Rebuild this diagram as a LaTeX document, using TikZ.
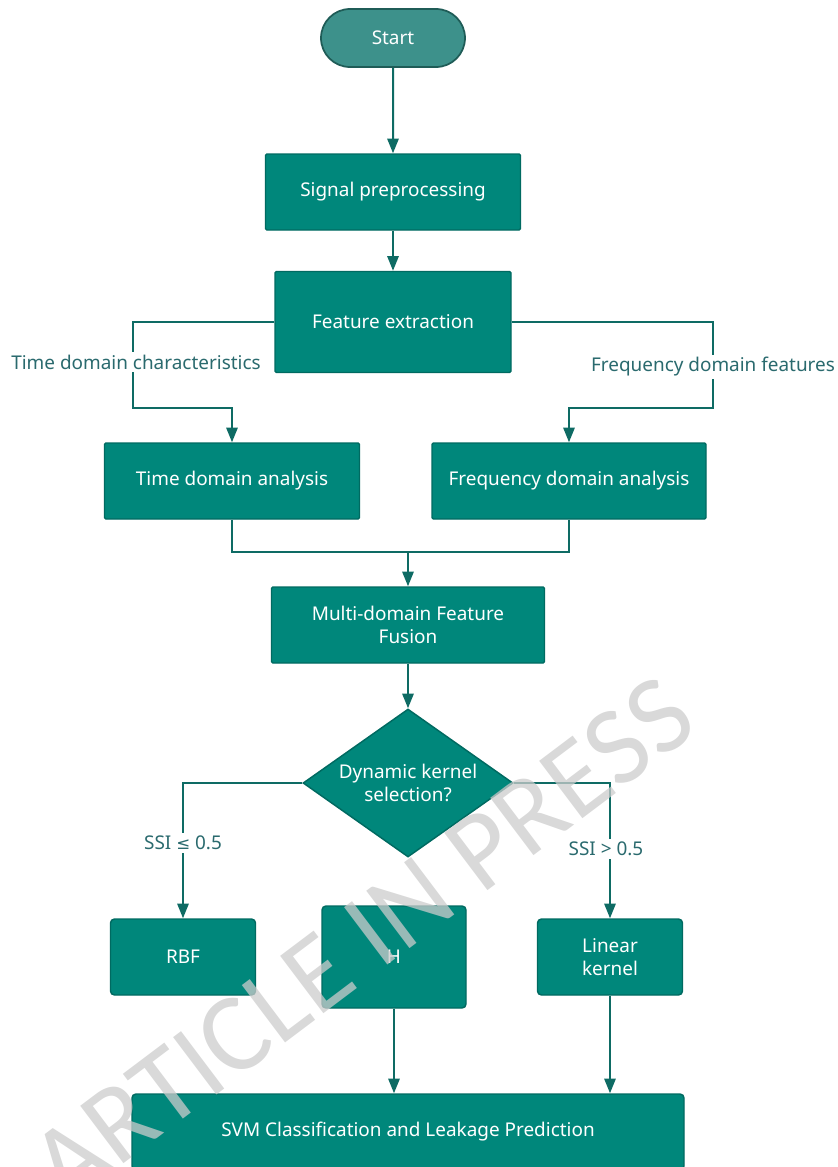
\documentclass[tikz,border=0pt]{standalone}
\usepackage{fontspec}
\setmainfont{Noto Sans}
\newfontfamily\wmfont{Carlito}
\newfontfamily\symfont{DejaVu Sans}
\usetikzlibrary{arrows.meta,shapes.geometric,shapes.misc}
\definecolor{boxfill}{HTML}{00877B}
\definecolor{boxline}{HTML}{006A61}
\definecolor{startfill}{HTML}{3D918B}
\definecolor{startline}{HTML}{1F5C57}
\definecolor{conn}{HTML}{0E6B64}
\definecolor{lbl}{HTML}{2A6A6E}
\definecolor{wm}{HTML}{CCCCCC}
\begin{document}
\begin{tikzpicture}[x=0.75pt,y=-0.75pt,
  box/.style={draw=boxline, line width=1.1pt, fill=boxfill, text=white,
    font=\fontsize{14.2}{17.5}\selectfont, align=center, inner sep=0pt, rounded corners=1pt},
  kbox/.style={box, rounded corners=3pt},
  startbox/.style={rounded rectangle, draw=startline, line width=1.3pt, fill=startfill, text=white,
    font=\fontsize{14.2}{17.5}\selectfont, inner sep=0pt, minimum width=108pt, minimum height=43.5pt},
  decision/.style={diamond, aspect=1.42, draw=boxline, line width=1.1pt, fill=boxfill, text=white,
    font=\fontsize{14.2}{17.5}\selectfont, align=center, inner sep=0pt,
    minimum width=157.5pt, minimum height=111pt},
  line/.style={draw=conn, line width=1.5pt},
  arr/.style={line, -{Triangle[length=11pt,width=8.5pt]}},
  lab/.style={fill=white, text=lbl, font=\fontsize{14.2}{17.5}\selectfont, inner sep=2pt}
]
\useasboundingbox (0,0) rectangle (838,1167);

% nodes
\node[startbox] (start) at (393,38) {Start};
\node[box, minimum width=191.25pt, minimum height=57pt] (sig) at (393,192) {Signal preprocessing};
\node[box, minimum width=177pt, minimum height=75.75pt] (fe) at (393,322) {Feature extraction};
\node[box, minimum width=191.25pt, minimum height=57pt] (td) at (232,481) {Time domain analysis};
\node[box, minimum width=205.5pt, minimum height=57pt] (fd) at (569,481) {Frequency domain analysis};
\node[box, minimum width=204.75pt, minimum height=57pt] (mf) at (408,625) {Multi-domain Feature\\Fusion};
\node[decision] (dk) at (408,783) {Dynamic kernel\\selection?};
\node[kbox, minimum width=108.75pt, minimum height=57pt] (rbf) at (183,957) {RBF};
\node[kbox, minimum width=108pt, minimum height=76.5pt] (h) at (394,957) {H};
\node[kbox, minimum width=108.75pt, minimum height=57pt] (lin) at (610,957) {Linear\\kernel};
\node[kbox, minimum width=414pt, minimum height=57pt] (svm) at (408,1132) {SVM Classification and Leakage Prediction};

% helper coordinates
\coordinate (tl) at (133,408);
\coordinate (fr) at (713,408);
\coordinate (mg) at (408,552);

% connectors
\draw[arr] (start) -- (sig);
\draw[arr] (sig) -- (fe);
\draw[arr] (fe.west) -| (tl) -| (td.north);
\draw[arr] (fe.east) -| (fr) -| (fd.north);
\draw[line] (td.south) |- (mg);
\draw[line] (fd.south) |- (mg);
\draw[arr] (mg) -- (mf.north);
\draw[arr] (mf) -- (dk);
\draw[arr] (dk.west) -| (rbf.north);
\draw[arr] (dk.east) -| (lin.north);
\draw[arr] (h.south) -- (h.south |- svm.north);
\draw[arr] (lin.south) -- (lin.south |- svm.north);

% labels
\node[lab] (l1) at (136,362) {Time domain characteristics};
\node[lab] (l2) at (713,367) {Frequency domain features};
\node[lab] (l3) at (183,843) {SSI {\symfont\fontsize{12.5}{15}\selectfont ≤} 0.5};
\node[lab] (l4) at (606,849) {SSI > 0.5};

% watermark
\node[rotate=37, text=wm, text opacity=0.75, font=\wmfont\fontsize{84}{90}\selectfont] (wmk) at (362,940) {ARTICLE IN PRESS};
\end{tikzpicture}
\end{document}
